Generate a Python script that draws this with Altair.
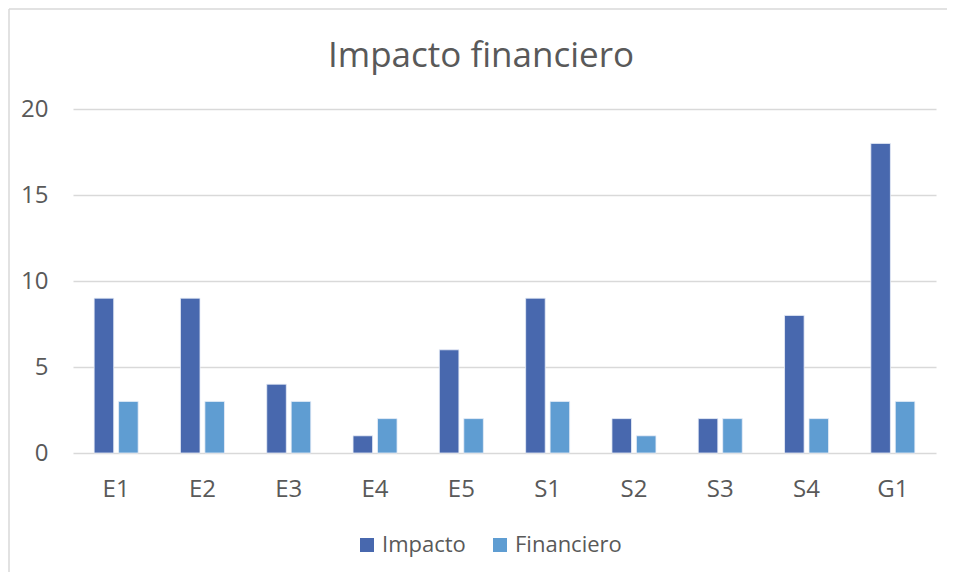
import altair as alt
import pandas as pd

categories = ["E1", "E2", "E3", "E4", "E5", "S1", "S2", "S3", "S4", "G1"]
impacto = [9, 9, 4, 1, 6, 9, 2, 2, 8, 18]
financiero = [3, 3, 3, 2, 2, 3, 1, 2, 2, 3]
series = ["Impacto", "Financiero"]
colors = ["#4868AE", "#5F9DD2"]
title_text = "Impacto financiero"

rows = []
for c, a, b in zip(categories, impacto, financiero):
    rows.append({"cat": c, "serie": series[0], "valor": a})
    rows.append({"cat": c, "serie": series[1], "valor": b})
df = pd.DataFrame(rows)

FONT = "Open Sans"
GREY = "#595959"

bars = alt.Chart(df).mark_bar(stroke="#e8eef7", strokeWidth=0.8).encode(
    x=alt.X("cat:N", sort=categories, title=None,
            scale=alt.Scale(paddingInner=0.49, paddingOuter=0.245),
            axis=alt.Axis(labelAngle=0, labelPadding=24, ticks=False, domain=False,
                          labelFontSize=24, labelColor=GREY, labelFont=FONT)),
    xOffset=alt.XOffset("serie:N", sort=series,
                        scale=alt.Scale(paddingInner=0.2, paddingOuter=0)),
    y=alt.Y("valor:Q", title=None,
            scale=alt.Scale(domain=[0, 20]),
            axis=alt.Axis(values=[0, 5, 10, 15, 20], ticks=False, domain=False,
                          labelPadding=25, labelFontSize=24, labelColor=GREY, labelFont=FONT,
                          gridColor="#d9d9d9", gridWidth=1.3)),
    color=alt.Color("serie:N", sort=series,
                    scale=alt.Scale(domain=series, range=colors),
                    legend=alt.Legend(title=None, orient="none", direction="horizontal",
                                      legendX=283, legendY=425,
                                      symbolType="square", symbolSize=196,
                                      symbolStrokeWidth=0,
                                      labelFontSize=22, labelColor=GREY, labelFont=FONT,
                                      columnPadding=23, labelOffset=4)),
)

# chart title, drawn as a text mark so the frame lines do not push it away
title = alt.Chart(pd.DataFrame({"t": [title_text]})).mark_text(
    font=FONT, fontSize=35, color=GREY, align="center", baseline="alphabetic"
).encode(text="t:N", x=alt.value(408), y=alt.value(-42))

# outer chart frame (decoration): only top and left edges fall inside the picture
frame_top = alt.Chart(pd.DataFrame({"f": [0]})).mark_rule(
    stroke="#d9d9d9", strokeWidth=1.5
).encode(
    x=alt.value(-64), x2=alt.value(874), y=alt.value(-100)
)
frame_left = alt.Chart(pd.DataFrame({"f": [0]})).mark_rule(
    stroke="#d9d9d9", strokeWidth=1.5
).encode(
    x=alt.value(-64), y=alt.value(-100), y2=alt.value(463)
)

chart = alt.layer(bars, title, frame_top, frame_left).properties(
    width=863,
    height=344,
    autosize=alt.AutoSizeParams(type="none"),
    padding={"left": 65, "top": 101, "right": 11, "bottom": 119},
).configure(background="white").configure_view(stroke=None)

chart.save("out.html", embed_options={"renderer": "svg", "actions": False})
